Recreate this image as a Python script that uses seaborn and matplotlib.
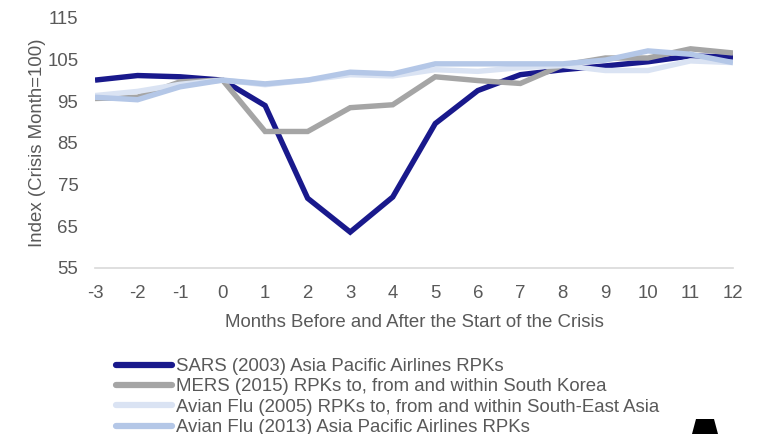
import matplotlib
matplotlib.use("Agg")
import matplotlib.pyplot as plt
from matplotlib.patches import Polygon
import numpy as np
import pandas as pd
import seaborn as sns

# Months relative to the start of each crisis
months = [-3, -2, -1, 0, 1, 2, 3, 4, 5, 6, 7, 8, 9, 10, 11, 12]

sars_2003 = [100.0, 101.1, 100.8, 100.0, 93.9, 71.7, 63.6, 72.0, 89.6, 97.5,
             101.3, 102.5, 103.4, 104.4, 105.8, 105.5]
mers_2015 = [95.6, 95.9, 99.6, 100.0, 87.7, 87.7, 93.4, 94.1, 100.8, 99.9,
             99.2, 103.6, 105.3, 105.3, 107.5, 106.5]
avian_2005 = [96.3, 97.3, 99.0, 100.0, 98.9, 100.0, 101.3, 101.0, 102.5, 102.1,
              103.0, 103.5, 102.3, 102.3, 104.6, 104.2]
avian_2013 = [95.9, 95.3, 98.4, 100.0, 99.1, 100.0, 101.9, 101.5, 103.9, 103.9,
              103.9, 103.9, 104.8, 107.0, 106.2, 104.2]

series_labels = [
    "SARS (2003) Asia Pacific Airlines RPKs",
    "MERS (2015) RPKs to, from and within South Korea",
    "Avian Flu (2005) RPKs to, from and within South-East Asia",
    "Avian Flu (2013) Asia Pacific Airlines RPKs",
]
series_values = [sars_2003, mers_2015, avian_2005, avian_2013]
series_colors = ["#19198C", "#A5A5A5", "#DAE3F3", "#B4C7E7"]

yticks = [55, 65, 75, 85, 95, 105, 115]

df = pd.concat(
    [pd.DataFrame({"month": months, "index": vals, "series": lab})
     for lab, vals in zip(series_labels, series_values)],
    ignore_index=True,
)

sns.set_theme(style="white")
plt.rcParams["font.family"] = ["Liberation Sans", "DejaVu Sans"]

text_color = "#595959"
fs = 13.4

fig = plt.figure(figsize=(7.61, 4.34), dpi=100)
ax = fig.add_axes([95 / 761, 1 - 268 / 434, (733 - 95) / 761, (268 - 17.5) / 434])

# draw in an order that keeps the light series visible
draw_order = [2, 1, 0, 3]
for i in draw_order:
    sub = df[df["series"] == series_labels[i]]
    sns.lineplot(data=sub, x="month", y="index", ax=ax, color=series_colors[i],
                 linewidth=3.9, label=series_labels[i], zorder=2 + i,
                 solid_capstyle="butt", solid_joinstyle="miter", legend=False)

ax.set_xlim(-3, 12)
ax.set_ylim(55, 115)
ax.set_xticks(months)
ax.set_xticklabels([str(m) for m in months])
ax.set_yticks(yticks)
ax.set_yticklabels([str(v) for v in yticks])
ax.tick_params(axis="both", length=0, labelsize=fs, labelcolor=text_color)
ax.tick_params(axis="x", pad=12)
ax.tick_params(axis="y", pad=12)

for side in ["left", "right", "top"]:
    ax.spines[side].set_visible(False)
ax.spines["bottom"].set_color("#D9D9D9")
ax.spines["bottom"].set_linewidth(1.2)
ax.grid(False)

ax.set_xlabel("Months Before and After the Start of the Crisis", fontsize=fs,
              color=text_color, labelpad=9)
ax.set_ylabel("Index (Crisis Month=100)", fontsize=fs, color=text_color,
              labelpad=1)

# legend below the axes, in series order
handles = [plt.Line2D([], [], color=c, linewidth=4.5, solid_capstyle="round")
           for c in series_colors]
fig.legend(handles, series_labels, loc="upper left",
           bbox_to_anchor=(116 / 761, 1 - 358 / 434),
           frameon=False, fontsize=fs, labelcolor=text_color,
           handlelength=3.0, handletextpad=0.25, labelspacing=0.18,
           borderaxespad=0, borderpad=0)

# corner mark
fig.patches.append(Polygon(
    [(692 / 761, 0.0), (718 / 761, 0.0), (714 / 761, 1 - 419 / 434),
     (696 / 761, 1 - 419 / 434)],
    closed=True, transform=fig.transFigure, facecolor="black",
    edgecolor="none"))

fig.savefig("out.png", dpi=100)
